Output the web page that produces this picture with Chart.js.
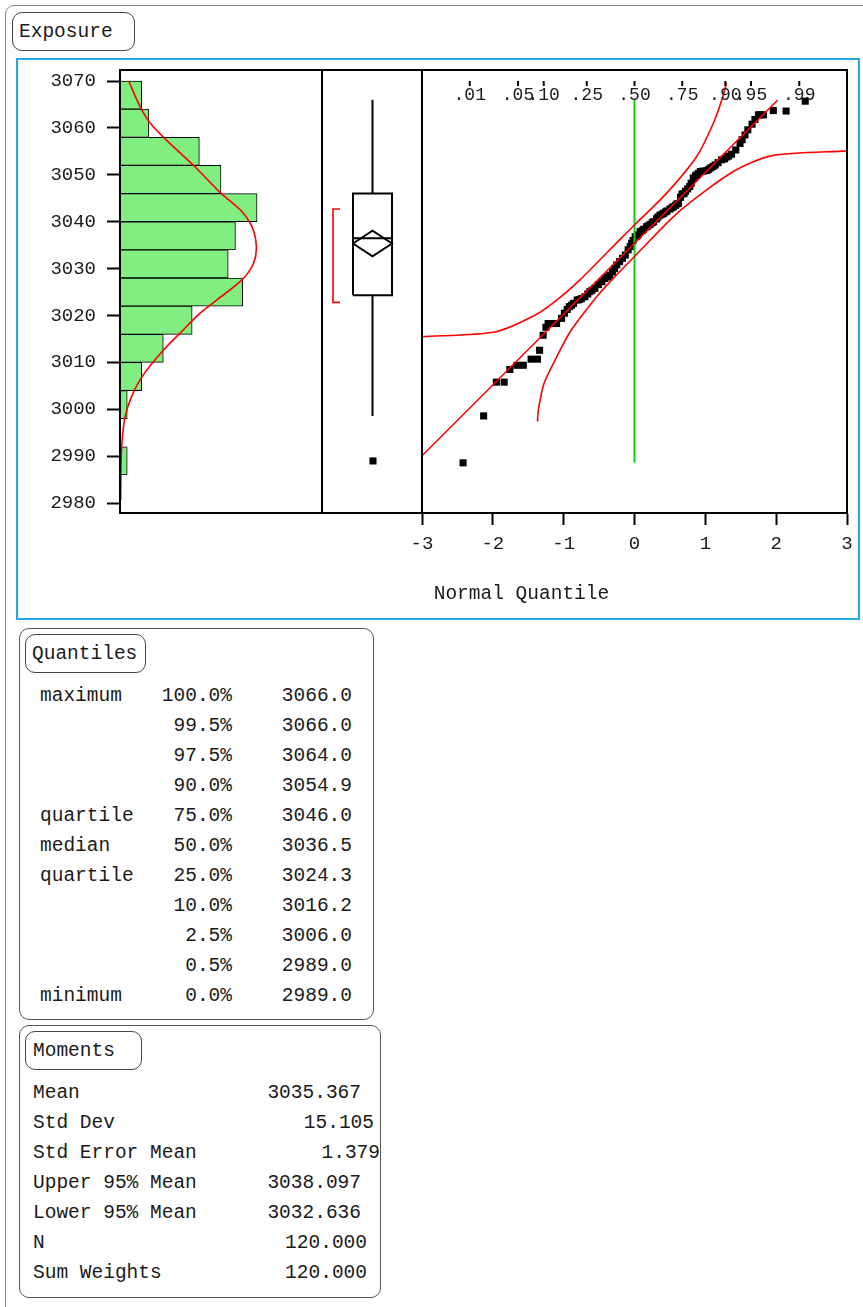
<!DOCTYPE html>
<html>
<head>
<meta charset="utf-8">
<script src="https://cdn.jsdelivr.net/npm/chart.js@4.4.1/dist/chart.umd.min.js"></script>
<style>
  html, body { margin:0; padding:0; background:#fff; }
  body { width:863px; height:1307px; position:relative; overflow:hidden;
         font-family:"Liberation Mono", monospace; color:#1a1a1a; }
  .abs { position:absolute; box-sizing:border-box; }
  .outer { left:5px; top:5px; width:900px; height:1400px; border:1.5px solid #8c8c8c; border-radius:9px; }
  .blue  { left:16px; top:58px; width:844px; height:562px; border:2px solid #29a8e3; }
  .btn   { border:1px solid #444; border-radius:10px; }
  .panel { border:1px solid #555; border-radius:10px; }
  .t { position:absolute; font-size:19.5px; line-height:30px; white-space:pre; }
  canvas { position:absolute; }
</style>
</head>
<body>
<div class="abs outer"></div>
<div class="abs btn" style="left:12px;top:12px;width:123px;height:39px"></div>
<div class="t" style="left:19px;top:17px">Exposure</div>
<div class="abs blue"></div>

<canvas id="hist" width="304" height="455" style="left:20px;top:60px"></canvas>
<canvas id="box"  width="120" height="455" style="left:312px;top:60px"></canvas>
<canvas id="nq"   width="460" height="553" style="left:400px;top:60px"></canvas>

<div class="abs panel" style="left:19px;top:628px;width:355px;height:392px"></div>
<div class="abs btn" style="left:25px;top:634px;width:121px;height:39px"></div>
<div class="t" style="left:32px;top:639px">Quantiles</div>
<div id="qrows"></div>

<div class="abs panel" style="left:19px;top:1025px;width:362px;height:273px"></div>
<div class="abs btn" style="left:25px;top:1031px;width:117px;height:39px"></div>
<div class="t" style="left:33px;top:1036px">Moments</div>
<div id="mrows"></div>

<script>
// ---- data ----
const yTicks    = [2980, 2990, 3000, 3010, 3020, 3030, 3040, 3050, 3060, 3070];
const binMids   = [3067, 3061, 3055, 3049, 3043, 3037, 3031, 3025, 3019, 3013, 3007, 3001, 2995, 2989];
const binCounts = [3, 4, 11, 14, 19, 16, 15, 17, 10, 6, 3, 1, 0, 1];

// fitted normal curve (count, value)
const densCount = [1.2, 2.8, 4.4, 7.4, 10.6, 13.9, 16.7, 18.3, 18.9, 18.5, 16.9, 13.4, 11.1, 8.3, 6.0, 3.2, 1.6, 0.7, 0.3, 0.14, 0.1];
const densValue = [3070, 3064.5, 3060.6, 3056, 3051.4, 3046.2, 3042.5, 3038.9, 3034.7, 3031.1, 3027.6, 3023.3, 3020.5, 3016.2, 3012.6, 3007.3, 3002.7, 2998.4, 2993.5, 2987.8, 2980.7];

// outlier box plot
const boxQ1 = 3024.3, boxMed = 3036.5, boxQ3 = 3046.0;
const whiskLo = 2998.6, whiskHi = 3066.0;
const outliers = [2989.0];
const meanVal = 3035.367, ciLo = 3032.636, ciHi = 3038.097;
const shortHalf = [3022.8, 3042.7];

// normal quantile plot (normal score, value)
const nqX = [-2.42, -2.13, -1.95, -1.84, -1.76, -1.66, -1.57, -1.46, -1.37, -1.34, -1.29, -1.25, -1.22, -1.16, -1.10, -1.03, -0.99,
             -0.95, -0.92, -0.89, -0.86, -0.81, -0.78, -0.75, -0.70, -0.66, -0.63, -0.60, -0.56, -0.51, -0.46, -0.42, -0.38,
             -0.35, -0.31, -0.28, -0.25, -0.21, -0.17, -0.13, -0.09, -0.06, -0.04, -0.02, 0.01, 0.03, 0.05, 0.08, 0.11,
             0.13, 0.17, 0.19, 0.22, 0.25, 0.27, 0.31, 0.33, 0.36, 0.39, 0.41, 0.44, 0.46, 0.50, 0.53, 0.55, 0.58, 0.60,
             0.62, 0.65, 0.67, 0.70, 0.72, 0.75, 0.78, 0.80, 0.83, 0.86, 0.88, 0.90, 0.93, 0.97, 1.02, 1.05, 1.08, 1.11,
             1.14, 1.18, 1.23, 1.27, 1.30, 1.33, 1.37, 1.43, 1.49, 1.52, 1.56, 1.60, 1.66, 1.70, 1.75, 1.78, 1.82, 1.96,
             2.14, 2.41];
const nqY = [2988.6, 2998.6, 3005.8, 3005.8, 3008.5, 3009.4, 3009.4, 3010.7, 3010.7, 3012.6, 3015.8, 3017.5, 3018.3, 3018.3, 3018.3, 3019.4, 3020.5,
             3021.3, 3021.9, 3022.2, 3022.6, 3023.3, 3023.4, 3023.6, 3024.0, 3024.6, 3025.1, 3025.4, 3025.8, 3026.6, 3027.2, 3027.9, 3028.2,
             3028.6, 3029.3, 3030.0, 3030.8, 3031.5, 3032.2, 3032.9, 3034.0, 3034.7, 3035.4, 3036.0, 3036.8, 3036.9, 3037.2, 3037.9, 3038.1,
             3038.4, 3038.9, 3039.1, 3039.4, 3039.8, 3040.0, 3040.6, 3041.0, 3041.4, 3041.6, 3041.8, 3042.1, 3042.3, 3042.7, 3043.0, 3043.2, 3043.5, 3043.8,
             3043.9, 3045.2, 3045.9, 3046.0, 3046.5, 3047.0, 3047.5, 3048.2, 3049.3, 3049.8, 3050.0, 3050.3, 3050.7, 3050.8, 3050.9, 3051.2, 3051.5, 3051.8,
             3052.1, 3052.6, 3053.2, 3053.4, 3053.8, 3054.0, 3054.4, 3055.3, 3056.7, 3057.5, 3058.5, 3059.6, 3060.8, 3061.8, 3062.8, 3062.8, 3062.8, 3063.7,
             3063.6, 3065.7];
const fitX = [-3, 2.02];
const fitY = [2990.1, 3065.9];
const upX  = [-3.0, -1.97, -1.40, -1.08, -0.77, -0.20, 0.0, 0.455, 0.878, 1.113, 1.231, 1.30];
const upY  = [3015.5, 3016.5, 3020.1, 3023.5, 3027.6, 3036.3, 3039.3, 3046.1, 3053.9, 3061.0, 3065.9, 3069.6];
const loX  = [-1.37, -1.357, -1.278, -1.098, -0.91, -0.534, -0.32, 0.0, 0.64, 1.395, 1.94, 3.0];
const loY  = [2997.4, 2999.9, 3005.5, 3011.2, 3016.5, 3024.0, 3027.6, 3032.6, 3042.3, 3050.7, 3054.1, 3055.1];
const medLine = [2988.6, 3066.0];
const xTicks = [-3, -2, -1, 0, 1, 2, 3];
const probLabels = ['.01', '.05', '.10', '.25', '.50', '.75', '.90', '.95', '.99'];
const probPos    = [-2.326, -1.645, -1.282, -0.674, 0, 0.674, 1.282, 1.645, 2.326];

// tables
const qLabels = ['maximum', '', '', '', 'quartile', 'median', 'quartile', '', '', '', 'minimum'];
const qPcts   = ['100.0%', '99.5%', '97.5%', '90.0%', '75.0%', '50.0%', '25.0%', '10.0%', '2.5%', '0.5%', '0.0%'];
const qVals   = ['3066.0', '3066.0', '3064.0', '3054.9', '3046.0', '3036.5', '3024.3', '3016.2', '3006.0', '2989.0', '2989.0'];
const mLabels = ['Mean', 'Std Dev', 'Std Error Mean', 'Upper 95% Mean', 'Lower 95% Mean', 'N', 'Sum Weights'];
const mVals   = ['3035.367', '15.105', '1.379', '3038.097', '3032.636', '120.000', '120.000'];

// ---- layout ----
const Y_MIN = 2977.9, Y_MAX = 3072.35;
const INK = '#1a1a1a';
const RED = '#ff0000';
Chart.defaults.font.family = '"Liberation Mono", monospace';
Chart.defaults.color = INK;

const pts = (xs, ys) => xs.map((x, i) => ({ x, y: ys[i] }));

const framePlugin = {
  id: 'frame',
  afterDraw(chart) {
    const a = chart.chartArea, ctx = chart.ctx;
    ctx.save();
    ctx.strokeStyle = '#000'; ctx.lineWidth = 2;
    ctx.strokeRect(a.left, a.top, a.right - a.left, a.bottom - a.top);
    ctx.restore();
  }
};

function yScale(show) {
  return {
    type: 'linear', min: Y_MIN, max: Y_MAX, display: show, offset: false,
    afterBuildTicks: s => { s.ticks = yTicks.map(v => ({ value: v })); },
    afterFit: s => { if (show) s.width = 100; s.paddingTop = 0; s.paddingBottom = 0; },
    grid: { drawOnChartArea: false, offset: false, tickLength: 13, tickWidth: 2, tickColor: '#000' },
    border: { color: '#000', width: 2 },
    ticks: { padding: 11, font: { size: 19 }, color: INK, callback: v => String(v) }
  };
}

const base = { responsive: false, animation: false, devicePixelRatio: 1,
               plugins: { legend: { display: false }, tooltip: { enabled: false } } };

// ---- histogram ----
new Chart(document.getElementById('hist'), {
  type: 'bar',
  data: {
    datasets: [
      { type: 'line', indexAxis: 'y', data: pts(densCount, densValue), borderColor: RED, borderWidth: 1.6,
        pointRadius: 0, tension: 0.3, fill: false },
      { type: 'bar', data: pts(binCounts, binMids), backgroundColor: '#80ee80', borderColor: '#000',
        borderWidth: 1, barPercentage: 1, categoryPercentage: 1 }
    ]
  },
  options: {
    ...base, indexAxis: 'y',
    layout: { autoPadding: false, padding: { top: 10, bottom: 2, left: 0, right: 2 } },
    scales: {
      x: { type: 'linear', min: 0, max: 28, display: false },
      y: yScale(true)
    }
  },
  plugins: [framePlugin]
});

// ---- outlier box plot (x in panel units 0..100) ----
const BL = 31, BR = 70, BC = 50.5;
const seg = (data, color, w) => ({ type: 'line', data, borderColor: color, borderWidth: w, pointRadius: 0, fill: false });
new Chart(document.getElementById('box'), {
  type: 'scatter',
  data: {
    datasets: [
      seg([{x: BL, y: boxQ1}, {x: BR, y: boxQ1}, {x: BR, y: boxQ3}, {x: BL, y: boxQ3}, {x: BL, y: boxQ1}], '#000', 2),
      seg([{x: BL, y: boxMed}, {x: BR, y: boxMed}], '#000', 2),
      seg([{x: BC, y: boxQ3}, {x: BC, y: whiskHi}], '#000', 2),
      seg([{x: BC, y: boxQ1}, {x: BC, y: whiskLo}], '#000', 2),
      seg([{x: BL, y: meanVal}, {x: BC, y: ciHi}, {x: BR, y: meanVal}, {x: BC, y: ciLo}, {x: BL, y: meanVal}], '#000', 2),
      seg([{x: 18, y: shortHalf[1]}, {x: 11, y: shortHalf[1]}, {x: 11, y: shortHalf[0]}, {x: 18, y: shortHalf[0]}], RED, 1.6),
      { data: outliers.map(v => ({ x: 51, y: v })), pointStyle: 'rect', pointRadius: 5,
        backgroundColor: '#000', borderWidth: 0 }
    ]
  },
  options: {
    ...base,
    layout: { autoPadding: false, padding: { top: 10, bottom: 2, left: 10, right: 10 } },
    scales: {
      x: { type: 'linear', min: 0, max: 100, display: false },
      y: yScale(false)
    }
  },
  plugins: [framePlugin]
});

// ---- normal quantile plot ----
const probAxis = {
  id: 'probAxis',
  afterDatasetsDraw(chart) {
    const { ctx, chartArea, scales } = chart;
    ctx.save();
    ctx.strokeStyle = '#000'; ctx.lineWidth = 2;
    ctx.fillStyle = INK; ctx.font = '18px "Liberation Mono"';
    ctx.textAlign = 'center'; ctx.textBaseline = 'middle';
    probPos.forEach((q, i) => {
      const x = scales.x.getPixelForValue(q);
      ctx.beginPath(); ctx.moveTo(x, chartArea.top + 11); ctx.lineTo(x, chartArea.top + 16); ctx.stroke();
      ctx.fillText(probLabels[i], x, chartArea.top + 25);
    });
    ctx.restore();
  }
};

new Chart(document.getElementById('nq'), {
  type: 'scatter',
  data: {
    datasets: [
      seg(pts(fitX, fitY), RED, 1.6),
      { ...seg(pts(upX, upY), RED, 1.6), tension: 0.25 },
      { ...seg(pts(loX, loY), RED, 1.6), tension: 0.25 },
      seg([{x: 0, y: medLine[0]}, {x: 0, y: medLine[1]}], '#10d010', 2),
      { data: pts(nqX, nqY), pointStyle: 'rect', pointRadius: 5, backgroundColor: '#000', borderWidth: 0 }
    ]
  },
  options: {
    ...base,
    layout: { autoPadding: false, padding: { top: 10, bottom: 0, left: 22, right: 13 } },
    scales: {
      x: {
        type: 'linear', min: -3, max: 3, position: 'bottom',
        afterBuildTicks: s => { s.ticks = xTicks.map(v => ({ value: v })); },
        afterFit: s => { s.height = 100; s.paddingLeft = 0; s.paddingRight = 0; },
        grid: { drawOnChartArea: false, tickLength: 12, tickWidth: 2, tickColor: '#000' },
        border: { color: '#000', width: 2 },
        ticks: { padding: 8, font: { size: 19 }, color: INK, maxRotation: 0, callback: v => String(v) },
        title: { display: true, text: ' Normal Quantile', align: 'start', color: INK,
                 font: { size: 19.5 }, padding: { top: 0, bottom: 7 } }
      },
      y: yScale(false)
    }
  },
  plugins: [framePlugin, probAxis]
});

// ---- tables ----
const qBox = document.getElementById('qrows');
qLabels.forEach((lab, i) => {
  const cy = 696 + i * 30;
  qBox.insertAdjacentHTML('beforeend',
    `<div class="t" style="left:40px;top:${cy - 15}px">${lab}</div>` +
    `<div class="t" style="right:${863 - 232}px;top:${cy - 15}px">${qPcts[i]}</div>` +
    `<div class="t" style="right:${863 - 352}px;top:${cy - 15}px">${qVals[i]}</div>`);
});
const mRight = [361, 374, 380, 361, 361, 367, 367];
const mBox = document.getElementById('mrows');
mLabels.forEach((lab, i) => {
  const cy = 1093 + i * 30;
  mBox.insertAdjacentHTML('beforeend',
    `<div class="t" style="left:33px;top:${cy - 15}px">${lab}</div>` +
    `<div class="t" style="right:${863 - mRight[i]}px;top:${cy - 15}px">${mVals[i]}</div>`);
});
</script>
</body>
</html>
